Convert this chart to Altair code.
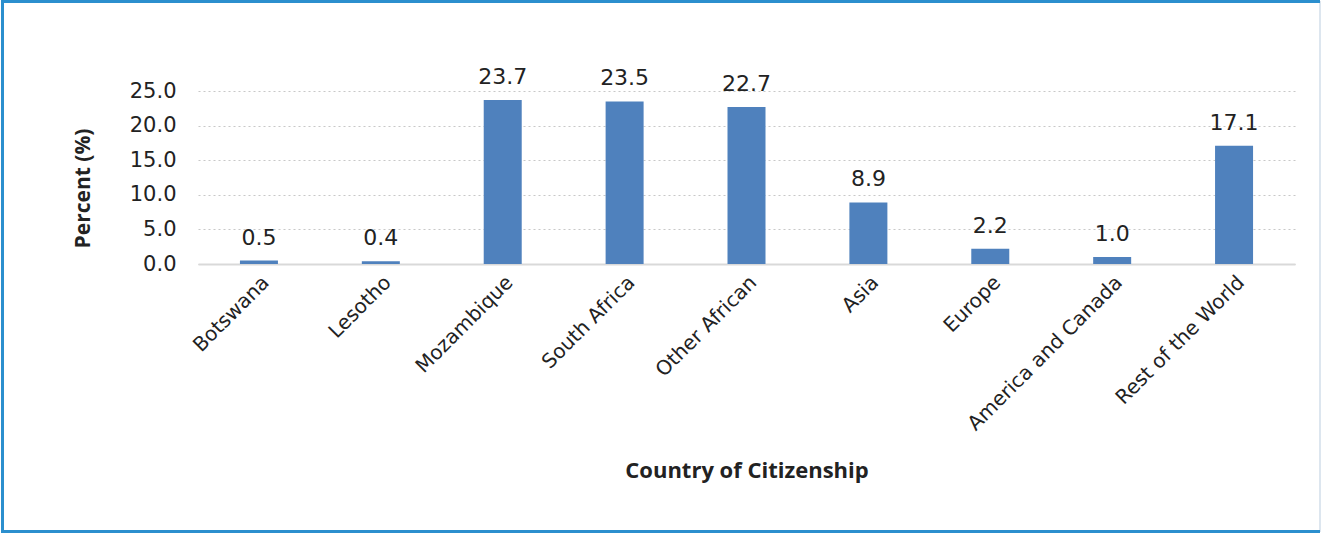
import altair as alt
import pandas as pd

countries = ["Botswana", "Lesotho", "Mozambique", "South Africa", "Other African",
             "Asia", "Europe", "America and Canada", "Rest of the World"]
percent = [0.5, 0.4, 23.7, 23.5, 22.7, 8.9, 2.2, 1.0, 17.1]
y_ticks = [0, 5, 10, 15, 20, 25]

df = pd.DataFrame({"country": countries, "pct": percent})
df["label"] = df["pct"].map(lambda v: f"{v:.1f}")

W, H = 1097, 173
L, T = 198, 91

x = alt.X("country:N", sort=countries, title="Country of Citizenship",
          scale=alt.Scale(paddingInner=0.0, paddingOuter=0.0),
          axis=alt.Axis(labelAngle=-45, labelFont="DejaVu Sans", labelFontSize=20,
                        labelColor="#222222", labelPadding=8, labelLimit=400, ticks=False,
                        domainColor="#d9d9d9", domainWidth=2, grid=False,
                        titleFont="Open Sans", titleFontSize=22, titleFontWeight="bold",
                        titleColor="#222222", titleY=196))
y = alt.Y("pct:Q", title="Percent (%)",
          scale=alt.Scale(domain=[0, 25], nice=False),
          axis=alt.Axis(values=y_ticks, format=".1f", labelFont="DejaVu Sans",
                        labelFontSize=21, labelColor="#222222", labelPadding=22,
                        ticks=False, domain=False, gridDash=[2, 3], gridColor="#c8c8c8",
                        gridWidth=1.2,
                        titleFont="Open Sans", titleFontSize=21, titleFontWeight="bold",
                        titleColor="#222222", titleX=-105, titleY=97))

base = alt.Chart(df)
bars = base.mark_bar(size=38, color="#4f81bd").encode(x=x, y=y)
labels = base.mark_text(dy=-11, baseline="bottom", font="DejaVu Sans", fontSize=22,
                        color="#222222").encode(x=x, y=y, text="label:N")

frame = pd.DataFrame({"a": [0]})
strong = dict(stroke="#2b8fce", strokeWidth=3)
left_b = alt.Chart(frame).mark_rule(**strong).encode(
    x=alt.value(-L + 2.5), y=alt.value(-T + 1), y2=alt.value(533 - T - 1))
top_b = alt.Chart(frame).mark_rule(**strong).encode(
    x=alt.value(-L + 1), x2=alt.value(1323 - L - 3), y=alt.value(-T + 1.5))
bot_b = alt.Chart(frame).mark_rule(**strong).encode(
    x=alt.value(-L + 1), x2=alt.value(1323 - L - 3), y=alt.value(533 - T - 1.5))
right_b = alt.Chart(frame).mark_rule(stroke="#dde6ef", strokeWidth=2).encode(
    x=alt.value(1323 - L - 3), y=alt.value(-T + 1), y2=alt.value(533 - T - 1))

chart = alt.layer(right_b, left_b, top_b, bot_b, bars, labels).properties(
    width=W, height=H,
    background="white",
    autosize=alt.AutoSizeParams(type="none"),
    padding={"left": L, "top": T, "right": 1323 - L - W, "bottom": 533 - T - H},
).configure_view(stroke=None)

chart.save("out.html", embed_options={"renderer": "svg", "actions": False})
